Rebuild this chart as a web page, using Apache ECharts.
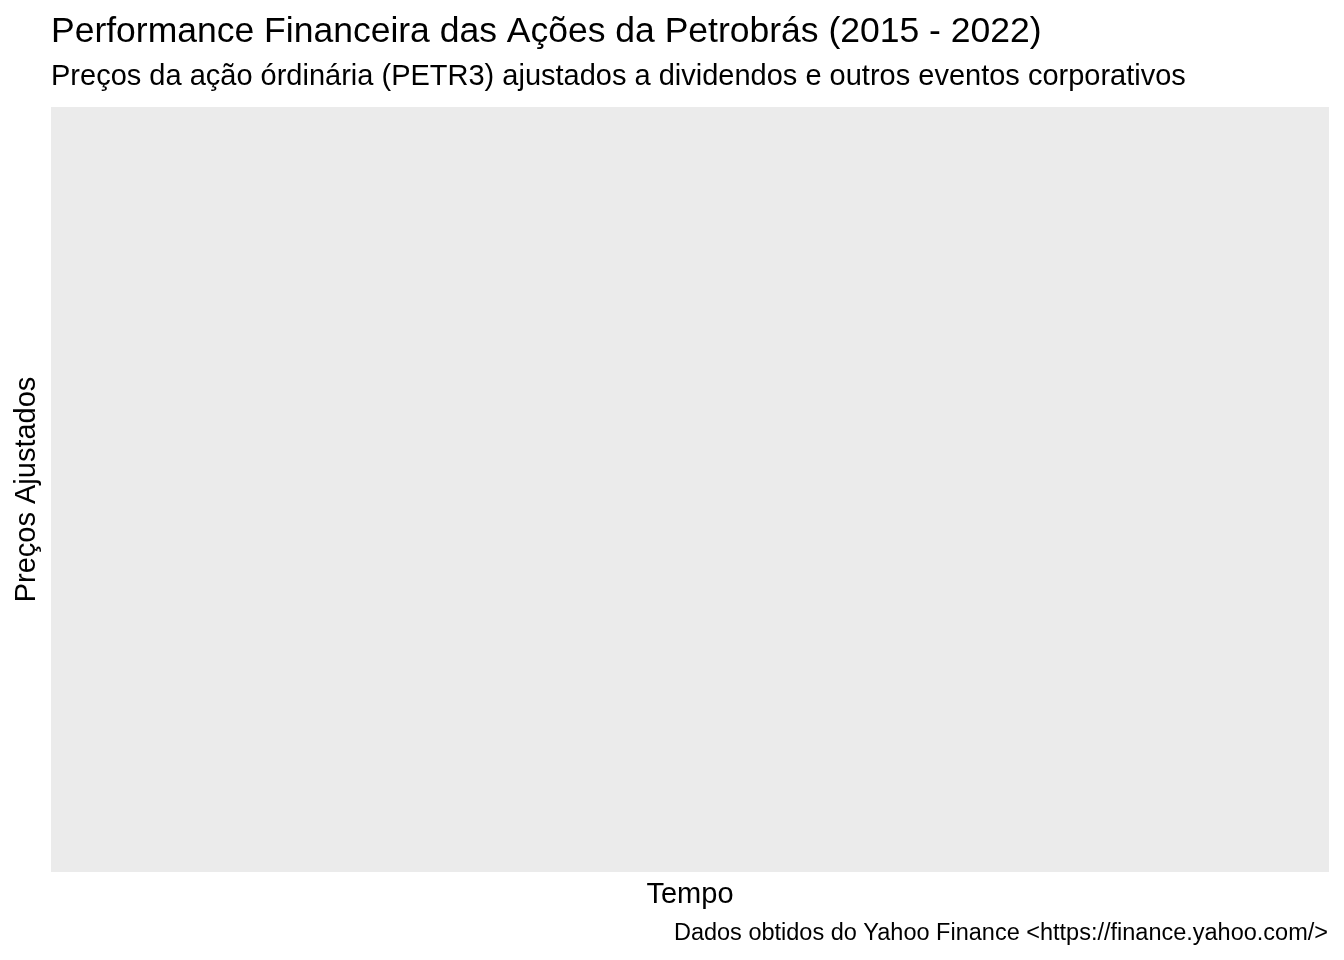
<!DOCTYPE html>
<html>
<head>
<meta charset="utf-8">
<script src="https://cdn.jsdelivr.net/npm/echarts@6/dist/echarts.min.js"></script>
<style>
  html, body { margin: 0; padding: 0; background: #fff; }
  #main { width: 1344px; height: 960px; }
</style>
</head>
<body>
<div id="main"></div>
<script>
// the reference panel is empty: no price points were plotted
var dates = [];
var prices = [];

var titleText = 'Performance Financeira das Ações da Petrobrás (2015 - 2022)';
var subtitleText = 'Preços da ação órdinária (PETR3) ajustados a dividendos e outros eventos corporativos';
var captionText = 'Dados obtidos do Yahoo Finance <https://finance.yahoo.com/>';

var font = '"Liberation Sans", Arial, sans-serif';

var seriesData = [];
for (var i = 0; i < dates.length; i++) {
    seriesData.push([dates[i], prices[i]]);
}

var myChart = echarts.init(document.getElementById('main'));
var option = {
    animation: false,
    backgroundColor: '#ffffff',
    title: [{
        text: titleText,
        left: 51,
        top: 14,
        padding: 0,
        textStyle: { fontFamily: font, fontSize: 35.5, fontWeight: 'normal', color: '#000', lineHeight: 36 }
    }, {
        text: subtitleText,
        left: 51,
        top: 62,
        padding: 0,
        textStyle: { fontFamily: font, fontSize: 29, fontWeight: 'normal', color: '#000', lineHeight: 30 }
    }, {
        text: captionText,
        right: 16,
        top: 922,
        padding: 0,
        textStyle: { fontFamily: font, fontSize: 23.5, fontWeight: 'normal', color: '#000', lineHeight: 24 }
    }],
    grid: {
        show: true,
        left: 51,
        top: 107,
        right: 15,
        bottom: 88,
        backgroundColor: '#EBEBEB',
        borderWidth: 0
    },
    xAxis: {
        type: 'time',
        name: 'Tempo',
        nameLocation: 'middle',
        nameGap: 8,
        nameTextStyle: { fontFamily: font, fontSize: 29, color: '#000', verticalAlign: 'top' },
        axisLine: { show: false },
        axisTick: { show: false },
        axisLabel: { show: false },
        splitLine: { show: false }
    },
    yAxis: {
        type: 'value',
        name: 'Preços Ajustados',
        nameLocation: 'middle',
        nameGap: 10,
        nameTextStyle: { fontFamily: font, fontSize: 29, color: '#000' },
        axisLine: { show: false },
        axisTick: { show: false },
        axisLabel: { show: false },
        splitLine: { show: false }
    },
    series: [{
        type: 'line',
        name: 'PETR3',
        showSymbol: false,
        data: seriesData
    }]
};
myChart.setOption(option);
</script>
</body>
</html>
